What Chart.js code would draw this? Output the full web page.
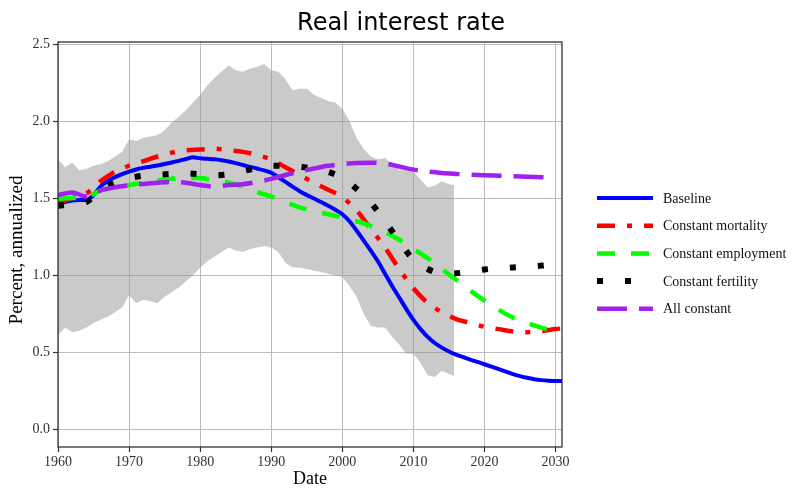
<!DOCTYPE html>
<html><head><meta charset="utf-8">
<script src="https://cdn.jsdelivr.net/npm/chart.js@4.4.1/dist/chart.umd.min.js"></script>
<style>html,body{margin:0;padding:0;background:#fff;}#wrap{width:793px;height:488px;}</style>
</head><body><div id="wrap"><canvas id="c" width="793" height="488"></canvas></div>
<script>
const chartTitle = 'Real interest rate';
const xAxisTitle = 'Date';
const yAxisTitle = 'Percent, annualized';
const xTicks = [1960, 1970, 1980, 1990, 2000, 2010, 2020, 2030];
const yTicks = [0.0, 0.5, 1.0, 1.5, 2.0, 2.5];
const seriesNames = ['Baseline', 'Constant mortality', 'Constant employment', 'Constant fertility', 'All constant'];

const baseYears = [1960,1961,1962,1963,1964,1965,1966,1967,1968,1969,1970,1971,1972,1973,1974,1975,1976,1977,1978,1979,
  1980,1981,1982,1983,1984,1985,1986,1987,1988,1989,1990,1991,1992,1993,1994,1995,1996,1997,1998,1999,
  2000,2001,2002,2003,2004,2005,2006,2007,2008,2009,2010,2011,2012,2013,2014,2015,2016,2017,2018,2019,
  2020,2021,2022,2023,2024,2025,2026,2027,2028,2029,2030,2031];
const baseline = [1.46,1.475,1.485,1.488,1.488,1.52,1.575,1.61,1.635,1.655,1.672,1.686,1.696,1.704,1.712,1.721,1.731,1.742,1.754,1.765,
  1.758,1.755,1.752,1.746,1.738,1.727,1.715,1.703,1.692,1.68,1.665,1.635,1.605,1.575,1.545,1.52,1.497,1.475,1.45,1.425,
  1.395,1.35,1.29,1.225,1.16,1.09,1.01,0.93,0.855,0.78,0.71,0.65,0.60,0.56,0.53,0.505,0.485,0.468,0.452,0.437,
  0.422,0.406,0.39,0.374,0.358,0.345,0.334,0.325,0.319,0.315,0.313,0.313];

const years = [1960,1962,1964,1966,1968,1970,1972,1974,1976,1978,1980,1982,1984,1986,1988,1990,1992,1994,1996,1998,
  2000,2002,2004,2006,2008,2010,2012,2014,2016,2018,2020,2022,2024,2026,2028,2030,2031];
const mortality = [1.47,1.50,1.53,1.61,1.67,1.71,1.74,1.77,1.795,1.81,1.815,1.82,1.81,1.80,1.78,1.75,1.70,1.65,1.60,1.555,
  1.505,1.42,1.30,1.18,1.04,0.915,0.82,0.76,0.715,0.69,0.665,0.65,0.635,0.63,0.637,0.65,0.655];
const employment = [1.495,1.50,1.505,1.55,1.57,1.585,1.60,1.615,1.625,1.63,1.63,1.615,1.60,1.575,1.54,1.51,1.475,1.44,1.415,1.395,
  1.375,1.35,1.32,1.28,1.23,1.17,1.11,1.04,0.97,0.90,0.835,0.775,0.725,0.69,0.66,0.635,null];
const fertility = [1.45,1.46,1.475,1.55,1.60,1.63,1.645,1.652,1.657,1.66,1.655,1.647,1.655,1.675,1.695,1.71,1.71,1.703,1.69,1.67,
  1.63,1.56,1.47,1.35,1.22,1.10,1.04,1.01,1.012,1.025,1.037,1.045,1.05,1.055,1.062,1.07,1.072];
const allConstant = [1.52,1.537,1.51,1.55,1.57,1.582,1.592,1.60,1.605,1.60,1.585,1.575,1.585,1.59,1.605,1.625,1.65,1.672,1.692,1.71,
  1.72,1.728,1.73,1.725,1.705,1.685,1.672,1.663,1.657,1.652,1.648,1.645,1.642,1.639,1.636,1.633,null];

const bandYears = [1960,1961,1962,1963,1964,1965,1966,1967,1968,1969,1970,1971,1972,1973,1974,1975,1976,1977,1978,1979,
  1980,1981,1982,1983,1984,1985,1986,1987,1988,1989,1990,1991,1992,1993,1994,1995,1996,1997,1998,1999,
  2000,2001,2002,2003,2004,2005,2006,2007,2008,2009,2010,2011,2012,2013,2014,2015,2015.7];
const bandUpper = [1.75,1.70,1.73,1.68,1.69,1.71,1.72,1.74,1.77,1.80,1.88,1.87,1.89,1.90,1.91,1.94,1.99,2.03,2.07,2.12,
  2.17,2.23,2.28,2.32,2.36,2.33,2.32,2.34,2.35,2.37,2.33,2.32,2.27,2.20,2.21,2.21,2.17,2.15,2.13,2.12,
  2.08,2.00,1.89,1.82,1.77,1.75,1.76,1.72,1.68,1.68,1.67,1.62,1.57,1.58,1.61,1.59,1.585];
const bandLower = [0.61,0.66,0.63,0.64,0.66,0.69,0.71,0.73,0.76,0.79,0.87,0.82,0.84,0.83,0.82,0.86,0.89,0.92,0.96,1.00,
  1.05,1.09,1.12,1.15,1.18,1.16,1.15,1.17,1.18,1.19,1.18,1.15,1.08,1.05,1.05,1.04,1.03,1.02,1.01,1.00,
  0.99,0.93,0.86,0.75,0.67,0.66,0.66,0.60,0.55,0.49,0.49,0.43,0.35,0.34,0.38,0.36,0.345];

const pts = (xs, ys) => xs.map((x, i) => ({x: x, y: ys[i]}));
const SERIF = '"Liberation Serif", "Times New Roman", serif';

function lineDs(label, xs, ys, color, width, dash, order, cap) {
  return {label, data: pts(xs, ys), borderColor: color, borderWidth: width, borderDash: dash,
    borderCapStyle: cap || 'butt', pointRadius: 0, fill: false, cubicInterpolationMode: 'monotone',
    order, isLegend: true, spanGaps: false};
}

const datasets = [
  lineDs(seriesNames[0], baseYears, baseline, '#0000ff', 4, [], 5, 'round'),
  lineDs(seriesNames[1], years, mortality, '#ff0000', 4.5, [18, 12, 5, 12], 4),
  lineDs(seriesNames[2], years, employment, '#00ff00', 4.5, [18, 16], 3),
  lineDs(seriesNames[3], years, fertility, '#000000', 6, [6, 22], 2),
  lineDs(seriesNames[4], years, allConstant, '#a020f0', 4.5, [30, 12], 1),
  {label: 'band upper', data: pts(bandYears, bandUpper), borderWidth: 0, pointRadius: 0, tension: 0,
    backgroundColor: 'rgba(150,150,150,0.5)', fill: '+1', order: 10},
  {label: 'band lower', data: pts(bandYears, bandLower), borderWidth: 0, pointRadius: 0, tension: 0,
    fill: false, order: 11}
];

const framePlugin = {
  id: 'frameAndLegend',
  afterDraw(chart) {
    const ctx = chart.ctx, a = chart.chartArea;
    ctx.save();
    ctx.strokeStyle = '#333';
    ctx.lineWidth = 1.3;
    ctx.strokeRect(a.left, a.top, a.right - a.left, a.bottom - a.top);
    // title
    ctx.fillStyle = '#000';
    ctx.font = '24px "DejaVu Sans", sans-serif';
    ctx.textAlign = 'center';
    ctx.textBaseline = 'alphabetic';
    ctx.fillText(chartTitle, 401, 30);
    // y axis title
    ctx.save();
    ctx.translate(17, 250);
    ctx.rotate(-Math.PI / 2);
    ctx.font = '19px ' + SERIF;
    ctx.textBaseline = 'middle';
    ctx.fillText(yAxisTitle, 0, 0);
    ctx.restore();
    // legend
    const lx = a.right + 35, tx = a.right + 101;
    let ly = 198;
    ctx.font = '14px ' + SERIF;
    ctx.textAlign = 'left';
    ctx.textBaseline = 'middle';
    chart.data.datasets.filter(d => d.isLegend).forEach(d => {
      ctx.save();
      ctx.strokeStyle = d.borderColor;
      ctx.lineWidth = d.borderWidth;
      ctx.setLineDash(d.borderDash);
      ctx.lineCap = 'butt';
      ctx.beginPath();
      ctx.moveTo(lx, ly);
      ctx.lineTo(lx + 56, ly);
      ctx.stroke();
      ctx.restore();
      ctx.fillStyle = '#111';
      ctx.fillText(d.label, tx, ly + 1);
      ly += 27.7;
    });
    ctx.restore();
  }
};

new Chart(document.getElementById('c'), {
  type: 'line',
  data: {datasets},
  options: {
    responsive: false,
    animation: false,
    devicePixelRatio: 1,
    layout: {padding: {left: 0, right: 231, top: 42, bottom: 0}},
    plugins: {legend: {display: false}, title: {display: false}, tooltip: {enabled: false}},
    scales: {
      x: {
        type: 'linear', min: 1960, max: 2030.9,
        afterBuildTicks: s => { s.ticks = xTicks.map(v => ({value: v})); },
        afterFit: s => { s.height = 41; },
        border: {display: false},
        grid: {color: '#bdbdbd', lineWidth: 1, tickLength: 5, tickColor: '#333', tickWidth: 1.2},
        ticks: {font: {family: SERIF, size: 14}, color: '#333', padding: 2, maxRotation: 0,
          callback: v => String(v)},
        title: {display: true, text: xAxisTitle, color: '#000', font: {family: SERIF, size: 18, lineHeight: 0.95},
          padding: {top: 0, bottom: 0}}
      },
      y: {
        type: 'linear', min: -0.115, max: 2.513,
        afterBuildTicks: s => { s.ticks = yTicks.map(v => ({value: v})); },
        afterFit: s => { s.width = 58; },
        border: {display: false},
        grid: {color: '#bdbdbd', lineWidth: 1, tickLength: 5, tickColor: '#333', tickWidth: 1.2},
        ticks: {font: {family: SERIF, size: 14}, color: '#333', padding: 3,
          callback: v => Number(v).toFixed(1)},
        title: {display: false}
      }
    }
  },
  plugins: [framePlugin]
});
</script>
</body></html>
